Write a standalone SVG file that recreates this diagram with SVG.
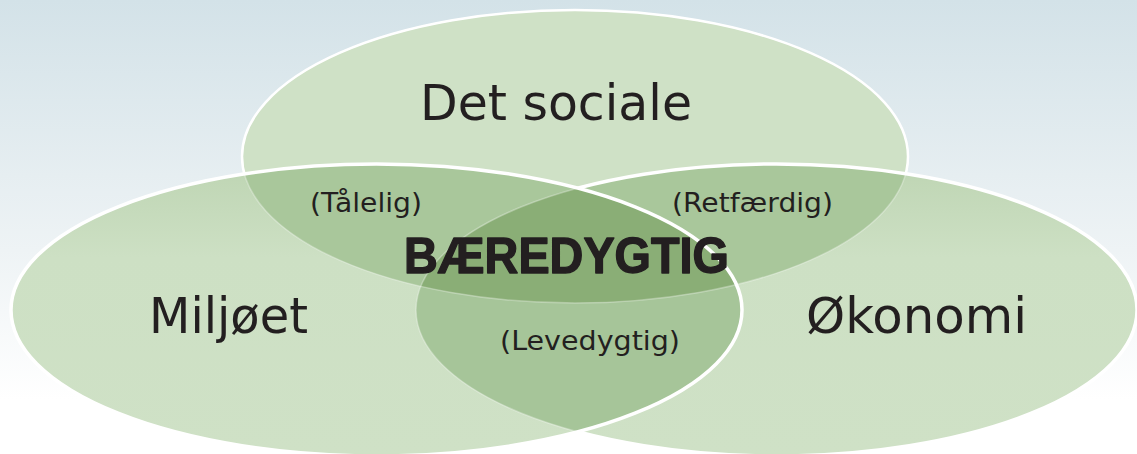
<svg xmlns="http://www.w3.org/2000/svg" xmlns:xlink="http://www.w3.org/1999/xlink" width="1137" height="454" viewBox="0 0 1137 454">
<style>
.lbl{font-family:"DejaVu Sans","Liberation Sans",sans-serif;fill:#231f20;}
.big{font-size:50px;}
.small{font-size:26px;}
.bold{font-family:"Liberation Sans","DejaVu Sans",sans-serif;font-weight:bold;font-size:50px;fill:#231f20;stroke:#231f20;stroke-width:1.4;stroke-linejoin:round;}
.edge{fill:none;stroke:#ffffff;}
.faint{fill:none;stroke:#ffffff;stroke-opacity:0.3;stroke-width:1.5;}
</style>
<defs>
<linearGradient id="bg" x1="0" y1="0" x2="0" y2="454" gradientUnits="userSpaceOnUse">
<stop offset="0" stop-color="#d3e2e8"/>
<stop offset="0.55" stop-color="#eef3f5"/>
<stop offset="0.88" stop-color="#ffffff"/>
</linearGradient>
<linearGradient id="side" x1="0" y1="0" x2="0" y2="1">
<stop offset="0" stop-color="#bed5b3"/>
<stop offset="0.32" stop-color="#cde0c4"/>
<stop offset="1" stop-color="#cfe1c6"/>
</linearGradient>
<ellipse id="eT" cx="575" cy="156.5" rx="333" ry="146.5"/>
<ellipse id="eL" cx="376.5" cy="310" rx="365.5" ry="146"/>
<ellipse id="eR" cx="776.5" cy="310" rx="360.5" ry="146"/>
<clipPath id="cT"><use xlink:href="#eT"/></clipPath>
<clipPath id="cL"><use xlink:href="#eL"/></clipPath>
<mask id="mOutLR" maskUnits="userSpaceOnUse" x="0" y="0" width="1137" height="454">
<rect width="1137" height="454" fill="#fff"/>
<use xlink:href="#eL" fill="#000"/>
<use xlink:href="#eR" fill="#000"/>
</mask>
<mask id="mOutL" maskUnits="userSpaceOnUse" x="0" y="0" width="1137" height="454">
<rect width="1137" height="454" fill="#fff"/>
<use xlink:href="#eL" fill="#000"/>
</mask>
<mask id="mInL" maskUnits="userSpaceOnUse" x="0" y="0" width="1137" height="454">
<use xlink:href="#eL" fill="#fff"/>
</mask>
</defs>
<rect id="background" width="1137" height="454" fill="url(#bg)"/>
<g id="node-social"><use xlink:href="#eT" fill="#cfe1c6"/></g>
<g id="node-okonomi"><use xlink:href="#eR" fill="url(#side)"/></g>
<g id="node-miljoet"><use xlink:href="#eL" fill="url(#side)"/></g>
<g id="overlaps">
<g id="overlap-levedygtig" clip-path="url(#cL)"><use xlink:href="#eR" fill="#a6c599"/></g>
<g id="overlap-talelig" clip-path="url(#cT)"><use xlink:href="#eL" fill="#a9c79b"/></g>
<g id="overlap-retfaerdig" clip-path="url(#cT)"><use xlink:href="#eR" fill="#a9c79b"/></g>
<g id="overlap-center" clip-path="url(#cT)"><g clip-path="url(#cL)"><use xlink:href="#eR" fill="#8aae76"/></g></g>
</g>
<g id="outlines">
<use xlink:href="#eT" class="faint"/>
<use xlink:href="#eT" class="edge" stroke-width="2.5" mask="url(#mOutLR)"/>
<use xlink:href="#eR" class="faint" mask="url(#mInL)"/>
<use xlink:href="#eR" class="edge" stroke-width="3.5" mask="url(#mOutL)"/>
<use xlink:href="#eL" class="edge" stroke-width="3.5"/>
</g>
<g id="labels">
<text id="t-social" class="lbl big" x="420" y="120" textLength="272" lengthAdjust="spacingAndGlyphs">Det sociale</text>
<text id="t-miljoet" class="lbl big" x="149" y="333" textLength="159" lengthAdjust="spacingAndGlyphs">Miljøet</text>
<text id="t-okonomi" class="lbl big" x="806" y="333" textLength="221" lengthAdjust="spacingAndGlyphs">Økonomi</text>
<text id="t-talelig" class="lbl small" x="310" y="212" textLength="112" lengthAdjust="spacingAndGlyphs">(Tålelig)</text>
<text id="t-retfaerdig" class="lbl small" x="672" y="212" textLength="161" lengthAdjust="spacingAndGlyphs">(Retfærdig)</text>
<text id="t-levedygtig" class="lbl small" x="500" y="350" textLength="180" lengthAdjust="spacingAndGlyphs">(Levedygtig)</text>
<text id="t-baeredygtig" class="bold" x="404" y="273" textLength="325" lengthAdjust="spacingAndGlyphs">BÆREDYGTIG</text>
</g>
</svg>
